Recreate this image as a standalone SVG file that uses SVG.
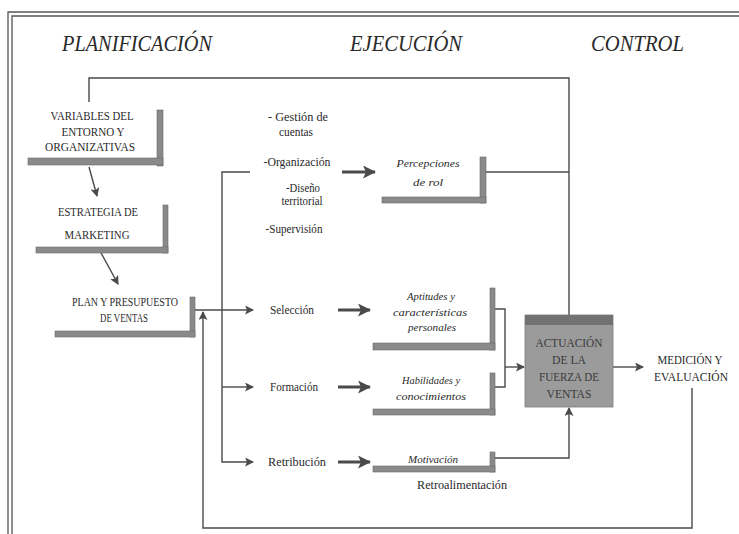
<svg xmlns="http://www.w3.org/2000/svg" width="739" height="534" viewBox="0 0 739 534" font-family="'Liberation Serif', 'Times New Roman', serif">
<defs>
<marker id="ah" markerUnits="userSpaceOnUse" markerWidth="9" markerHeight="9" refX="8" refY="4.5" orient="auto"><path d="M0,0 L9,4.5 L0,9 L2,4.5 z" fill="#4a4a4a"/></marker>
<marker id="ahb" markerUnits="userSpaceOnUse" markerWidth="13" markerHeight="13" refX="12" refY="6.5" orient="auto"><path d="M0,0 L13,6.5 L0,13 L3,6.5 z" fill="#4a4a4a"/></marker>
</defs>
<style>
text{font-family:'Liberation Serif','Times New Roman',serif}
.t{font-size:12px;fill:#2a2a2a;text-anchor:middle}
.c{font-size:11.5px}
.i{font-style:italic;font-size:11px}
.h{font-style:italic;font-size:24px;fill:#2a2a2a}
.sh{fill:#8a8a8a;stroke:#6a6a6a;stroke-width:0.6}
.ln{fill:none;stroke:#4a4a4a;stroke-width:1.4}
.ar{fill:none;stroke:#4a4a4a;stroke-width:1.4;marker-end:url(#ah)}
.ab{fill:none;stroke:#4a4a4a;stroke-width:3;marker-end:url(#ahb)}
</style>
<rect width="739" height="534" fill="#ffffff"/>
<g id="frame" fill="none" stroke="#555" stroke-width="1.3">
<path d="M8,534 V12 H739"/>
<path d="M12,534 V16 H739"/>
</g>
<g id="headers">
<text class="h" x="62" y="51" textLength="150" lengthAdjust="spacingAndGlyphs">PLANIFICACIÓN</text>
<text class="h" x="350" y="51" textLength="112" lengthAdjust="spacingAndGlyphs">EJECUCIÓN</text>
<text class="h" x="591" y="51" textLength="93" lengthAdjust="spacingAndGlyphs">CONTROL</text>
</g>
<g id="connectors">
<path class="ln" d="M89,102 V78 H569 V315"/>
<path class="ln" d="M486,172 H569"/>
<path class="ar" d="M89,167 L97,196"/>
<path class="ar" d="M100,251 L118,284"/>
<path class="ar" d="M195,310 H253"/>
<path class="ar" d="M250,172 H222 V462 H253"/>
<path class="ar" d="M222,387 H253"/>
<path class="ab" d="M342,172 H375"/>
<path class="ab" d="M338,310 H370"/>
<path class="ab" d="M338,387 H370"/>
<path class="ab" d="M338,462 H370"/>
<path class="ln" d="M495,309 H505 V387 H495"/>
<path class="ar" d="M505,367 H524"/>
<path class="ar" d="M495,458 H569 V408"/>
<path class="ar" d="M613,367 H643"/>
<path class="ar" d="M692,388 V528 H203 V312"/>
</g>
<g id="n-variables">
<rect class="sh" x="157" y="110" width="6" height="56"/>
<rect class="sh" x="28" y="158" width="135" height="7"/>
<text class="t c" x="92" y="120" textLength="83" lengthAdjust="spacingAndGlyphs">VARIABLES DEL</text>
<text class="t c" x="93" y="136" textLength="63" lengthAdjust="spacingAndGlyphs">ENTORNO Y</text>
<text class="t c" x="90" y="151" textLength="90" lengthAdjust="spacingAndGlyphs">ORGANIZATIVAS</text>
</g>
<g id="n-estrategia">
<rect class="sh" x="163" y="205" width="5" height="48"/>
<rect class="sh" x="36" y="247" width="132" height="6"/>
<text class="t c" x="98" y="216" textLength="80" lengthAdjust="spacingAndGlyphs">ESTRATEGIA DE</text>
<text class="t c" x="97" y="239" textLength="65" lengthAdjust="spacingAndGlyphs">MARKETING</text>
</g>
<g id="n-plan">
<rect class="sh" x="190" y="297" width="5" height="40"/>
<rect class="sh" x="55" y="331" width="140" height="6"/>
<text class="t c" x="125" y="306" textLength="106" lengthAdjust="spacingAndGlyphs">PLAN Y PRESUPUESTO</text>
<text class="t c" x="124" y="322" textLength="48" lengthAdjust="spacingAndGlyphs">DE VENTAS</text>
</g>
<g id="n-funciones">
<text class="t" x="298" y="121" textLength="60" lengthAdjust="spacingAndGlyphs">- Gestión de</text>
<text class="t" x="296" y="136" textLength="34" lengthAdjust="spacingAndGlyphs">cuentas</text>
<text class="t" x="297" y="166" textLength="67" lengthAdjust="spacingAndGlyphs">-Organización</text>
<text class="t" x="303" y="192" textLength="34" lengthAdjust="spacingAndGlyphs">-Diseño</text>
<text class="t" x="302" y="205" textLength="41" lengthAdjust="spacingAndGlyphs">territorial</text>
<text class="t" x="294" y="233" textLength="57" lengthAdjust="spacingAndGlyphs">-Supervisión</text>
</g>
<g id="n-seleccion"><text class="t" x="292" y="314" textLength="44" lengthAdjust="spacingAndGlyphs">Selección</text></g>
<g id="n-formacion"><text class="t" x="294" y="391" textLength="48" lengthAdjust="spacingAndGlyphs">Formación</text></g>
<g id="n-retribucion"><text class="t" x="297" y="466" textLength="58" lengthAdjust="spacingAndGlyphs">Retribución</text></g>
<g id="n-percepciones">
<rect class="sh" x="480" y="157" width="6" height="46"/>
<rect class="sh" x="382" y="197" width="104" height="6"/>
<text class="t i" x="428" y="167" textLength="63" lengthAdjust="spacingAndGlyphs">Percepciones</text>
<text class="t i" x="428" y="186" textLength="30" lengthAdjust="spacingAndGlyphs">de rol</text>
</g>
<g id="n-aptitudes">
<rect class="sh" x="490" y="288" width="5" height="62"/>
<rect class="sh" x="373" y="343" width="122" height="7"/>
<text class="t i" x="431" y="300" textLength="48" lengthAdjust="spacingAndGlyphs">Aptitudes y</text>
<text class="t i" x="430" y="316" textLength="74" lengthAdjust="spacingAndGlyphs">características</text>
<text class="t i" x="432" y="331" textLength="48" lengthAdjust="spacingAndGlyphs">personales</text>
</g>
<g id="n-habilidades">
<rect class="sh" x="490" y="373" width="5" height="42"/>
<rect class="sh" x="373" y="409" width="122" height="6"/>
<text class="t i" x="431" y="384" textLength="58" lengthAdjust="spacingAndGlyphs">Habilidades y</text>
<text class="t i" x="431" y="400" textLength="70" lengthAdjust="spacingAndGlyphs">conocimientos</text>
</g>
<g id="n-motivacion">
<rect class="sh" x="490" y="452" width="5" height="20"/>
<rect class="sh" x="373" y="466" width="122" height="6"/>
<text class="t i" x="433" y="463" textLength="50" lengthAdjust="spacingAndGlyphs">Motivación</text>
</g>
<g id="n-actuacion">
<rect x="525" y="315" width="88" height="92" fill="#9b9b9b" stroke="#7a7a7a" stroke-width="0.8"/>
<rect x="525" y="315" width="88" height="10" fill="#727272"/>
<text class="t c" x="569" y="347" textLength="67" lengthAdjust="spacingAndGlyphs" style="fill:#3a3a3a">ACTUACIÓN</text>
<text class="t c" x="569" y="364" textLength="34" lengthAdjust="spacingAndGlyphs" style="fill:#3a3a3a">DE LA</text>
<text class="t c" x="569" y="381" textLength="60" lengthAdjust="spacingAndGlyphs" style="fill:#3a3a3a">FUERZA DE</text>
<text class="t c" x="569" y="398" textLength="45" lengthAdjust="spacingAndGlyphs" style="fill:#3a3a3a">VENTAS</text>
</g>
<g id="n-medicion">
<text class="t c" x="690" y="364" textLength="65" lengthAdjust="spacingAndGlyphs">MEDICIÓN Y</text>
<text class="t c" x="691" y="381" textLength="74" lengthAdjust="spacingAndGlyphs">EVALUACIÓN</text>
</g>
<g id="n-retro"><text class="t" x="462" y="489" textLength="90" lengthAdjust="spacingAndGlyphs">Retroalimentación</text></g>
</svg>
